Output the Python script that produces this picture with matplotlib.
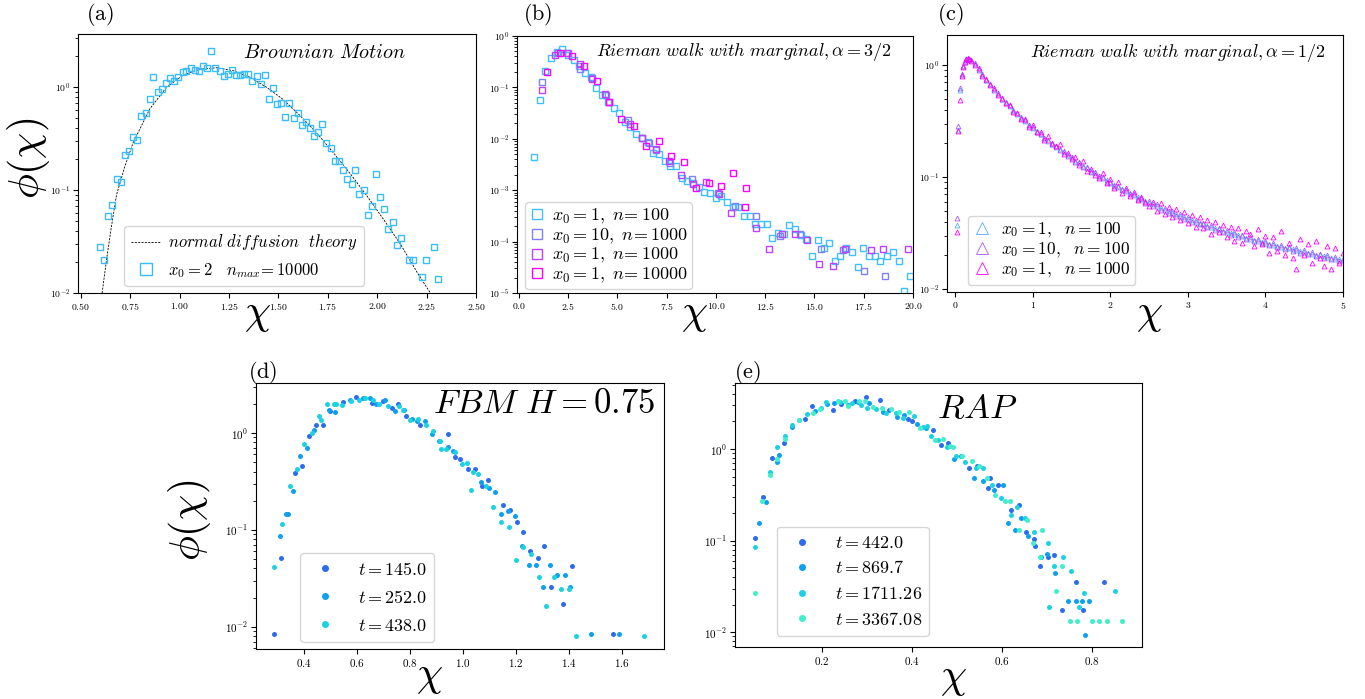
import numpy as np
import matplotlib
matplotlib.use("Agg")
import matplotlib.pyplot as plt
from matplotlib.ticker import FuncFormatter, LogLocator, NullFormatter, MultipleLocator

plt.rcParams['mathtext.fontset'] = 'cm'
plt.rcParams['font.family'] = ['DejaVu Serif']

# ---------------- Panel (a): Brownian motion ----------------
chi_a = [0.596, 0.618, 0.639, 0.660, 0.681, 0.703, 0.723, 0.745, 0.765, 0.785,
         0.806, 0.828, 0.848, 0.868, 0.890, 0.910, 0.931, 0.953, 0.973, 0.993,
         1.015, 1.035, 1.057, 1.078, 1.098, 1.120, 1.140, 1.160, 1.181, 1.203,
         1.223, 1.245, 1.265, 1.285, 1.307, 1.328, 1.348, 1.368, 1.390, 1.410,
         1.432, 1.453, 1.473, 1.495, 1.515, 1.535, 1.556, 1.578, 1.598, 1.618,
         1.640, 1.660, 1.681, 1.703, 1.723, 1.743, 1.765, 1.785, 1.807, 1.828,
         1.848, 1.870, 1.890, 1.910, 1.932, 1.953, 1.973, 1.995, 2.015, 2.035,
         2.057, 2.078, 2.098, 2.118, 2.160, 2.181, 2.225, 2.245, 2.285, 2.307]
phi_a = [0.028, 0.021, 0.056, 0.071, 0.128, 0.121, 0.222, 0.243, 0.326, 0.305,
         0.526, 0.558, 0.764, 1.25, 0.908, 0.956, 1.10, 1.24, 1.15, 1.25,
         1.40, 1.43, 1.53, 1.47, 1.45, 1.60, 1.54, 2.26, 1.55, 1.45,
         1.28, 1.36, 1.46, 1.33, 1.33, 1.34, 1.34, 1.14, 1.28, 1.07,
         1.31, 0.764, 0.99, 0.69, 0.70, 0.51, 0.70, 0.50, 0.56, 0.43,
         0.456, 0.405, 0.34, 0.367, 0.436, 0.289, 0.258, 0.191, 0.191, 0.158,
         0.128, 0.114, 0.158, 0.092, 0.10, 0.057, 0.070, 0.144, 0.085, 0.065,
         0.042, 0.049, 0.029, 0.034, 0.021, 0.021, 0.0144, 0.021, 0.028, 0.0138]
theory_chi = [0.608, 0.630, 0.655, 0.681, 0.723, 0.765, 0.850, 0.934, 1.019, 1.103,
              1.188, 1.272, 1.356, 1.441, 1.525, 1.610, 1.694, 1.779, 1.863, 1.948,
              2.032, 2.117, 2.201, 2.269]
theory_phi = [0.010, 0.0208, 0.044, 0.09, 0.17, 0.29, 0.62, 1.0, 1.32, 1.50,
              1.55, 1.45, 1.25, 1.0, 0.76, 0.53, 0.36, 0.23, 0.145, 0.088,
              0.052, 0.030, 0.016, 0.010]

# ---------------- Panel (b): Rieman walk alpha=3/2 ----------------
chi_b1 = [0.763, 1.05, 1.34, 1.63, 1.92, 2.20, 2.49, 2.78, 3.07, 3.36,
          3.64, 3.93, 4.22, 4.51, 4.80, 5.08, 5.37, 5.66, 5.95, 6.24,
          6.53, 6.81, 7.10, 7.39, 7.68, 7.97, 8.25, 8.54, 8.83, 9.12,
          9.41, 9.69, 9.98, 10.27, 10.56, 10.85, 11.14, 11.42, 11.71, 12.0,
          12.29, 12.58, 12.86, 13.15, 13.44, 13.73, 14.02, 14.31, 14.59, 14.88,
          15.17, 15.46, 15.75, 16.03, 16.32, 16.61, 16.9, 17.19, 17.47, 17.76,
          18.05, 18.34, 18.69, 18.98, 19.27, 19.56, 19.86]
phi_b1 = [0.0045, 0.057, 0.209, 0.38, 0.48, 0.56, 0.43, 0.337, 0.258, 0.19,
          0.157, 0.096, 0.070, 0.052, 0.039, 0.032, 0.021, 0.0166, 0.0125, 0.0102,
          0.0085, 0.0054, 0.005, 0.0037, 0.003, 0.0029, 0.0017, 0.00148, 0.00138, 0.00114,
          0.00091, 0.00087, 0.00069, 0.00076, 0.0006, 0.00047, 0.00047, 0.00031, 0.00032, 0.000224,
          0.00022, 0.00022, 0.000116, 0.000148, 0.000139, 0.00021, 0.000177, 0.000132, 0.00011, 5.3e-5,
          0.000108, 7.4e-5, 9.4e-5, 4.2e-5, 5.3e-5, 7.5e-5, 6.4e-5, 3.2e-5, 7.4e-5, 5.3e-5,
          5.2e-5, 4.2e-5, 5.3e-5, 6.3e-5, 4.2e-5, 1.07e-5, 2.1e-5]
chi_b2 = [1.19, 1.98, 2.49, 3.08, 3.73, 4.41, 5.54, 6.27, 6.61, 6.98,
          7.68, 8.80, 10.1, 10.97, 12.03, 13.25, 14.27, 15.34, 16.47, 17.53, 18.59]
phi_b2 = [0.128, 0.46, 0.46, 0.23, 0.149, 0.07, 0.023, 0.0104, 0.0083, 0.0061,
          0.0034, 0.00168, 0.00088, 0.0005, 0.00031, 0.00013, 0.00014, 7.2e-5, 6.8e-5, 2.7e-5, 2.1e-5]
chi_b3 = [1.19, 1.81, 2.44, 3.10, 3.73, 4.39, 4.58, 5.64, 6.27, 6.93,
          7.59, 8.22, 8.85, 9.49, 10.15, 10.78, 12.05, 12.71, 13.36, 14.0,
          14.64, 15.25, 15.92, 16.56, 17.85, 18.49, 19.75]
phi_b3 = [0.089, 0.43, 0.46, 0.29, 0.146, 0.074, 0.051, 0.0195, 0.0103, 0.0062,
          0.0037, 0.002, 0.00135, 0.00143, 0.00084, 0.00036, 0.00018, 7.1e-5, 0.000138, 0.000138,
          0.000106, 3.6e-5, 3.4e-5, 7.3e-5, 7.0e-5, 7.3e-5, 7.3e-5]
chi_b4 = [1.42, 2.07, 2.69, 3.32, 3.95, 4.58, 5.20, 5.83, 6.46, 7.10,
          7.73, 8.36, 9.0, 9.63, 10.25, 10.88, 11.51, 11.47]
phi_b4 = [0.203, 0.46, 0.41, 0.26, 0.134, 0.051, 0.024, 0.018, 0.0071, 0.0091,
          0.0046, 0.0035, 0.0011, 0.0014, 0.00119, 0.0022, 0.00109, 0.00047]

# ---------------- Panel (c): Rieman walk alpha=1/2 ----------------
chi_c = [0.02, 0.04, 0.06, 0.08, 0.10, 0.12, 0.14, 0.16, 0.18, 0.20,
         0.25, 0.30, 0.35, 0.40, 0.45, 0.50, 0.55, 0.60, 0.65, 0.70,
         0.75, 0.80, 0.85, 0.90, 0.95, 1.00, 1.05, 1.10, 1.15, 1.20,
         1.25, 1.30, 1.35, 1.40, 1.45, 1.50, 1.55, 1.60, 1.65, 1.70,
         1.75, 1.80, 1.85, 1.90, 1.95, 2.00, 2.05, 2.10, 2.15, 2.20,
         2.25, 2.30, 2.35, 2.40, 2.45, 2.50, 2.55, 2.60, 2.65, 2.70,
         2.75, 2.80, 2.85, 2.90, 2.95, 3.00, 3.05, 3.10, 3.15, 3.20,
         3.25, 3.30, 3.35, 3.40, 3.45, 3.50, 3.55, 3.60, 3.65, 3.70,
         3.75, 3.80, 3.85, 3.90, 3.95, 4.00, 4.05, 4.10, 4.15, 4.20,
         4.25, 4.30, 4.35, 4.40, 4.45, 4.50, 4.55, 4.60, 4.65, 4.70,
         4.75, 4.80, 4.85, 4.90, 4.95, 5.00]
phi_c1 = [0.037, 0.26, 0.60, 0.82, 0.97, 1.07, 1.12, 1.14, 1.13, 1.11,
          1.02, 0.92, 0.82, 0.74, 0.67, 0.61, 0.55, 0.50, 0.47, 0.43,
          0.395, 0.365, 0.34, 0.315, 0.292, 0.275, 0.257, 0.240, 0.225, 0.211,
          0.198, 0.186, 0.176, 0.166, 0.157, 0.148, 0.140, 0.133, 0.126, 0.120,
          0.114, 0.108, 0.103, 0.098, 0.093, 0.089, 0.085, 0.081, 0.078, 0.075,
          0.072, 0.069, 0.066, 0.063, 0.061, 0.059, 0.057, 0.055, 0.053, 0.051,
          0.0495, 0.048, 0.0465, 0.045, 0.0437, 0.0424, 0.0412, 0.0400, 0.0389, 0.0378,
          0.0368, 0.0358, 0.0349, 0.0340, 0.0332, 0.0324, 0.0316, 0.0309, 0.0302, 0.0295,
          0.0288, 0.0282, 0.0276, 0.0270, 0.0264, 0.0259, 0.0254, 0.0249, 0.0244, 0.0239,
          0.0234, 0.0230, 0.0226, 0.0222, 0.0218, 0.0214, 0.0210, 0.0206, 0.0203, 0.0200,
          0.0196, 0.0193, 0.0190, 0.0187, 0.0184, 0.0181]
phi_c2 = [0.043, 0.285, 0.62, 0.83, 0.98, 1.08, 1.13, 1.15, 1.13, 1.10,
          1.03, 0.91, 0.83, 0.73, 0.68, 0.60, 0.56, 0.50, 0.46, 0.435,
          0.39, 0.37, 0.335, 0.32, 0.288, 0.28, 0.253, 0.244, 0.222, 0.214,
          0.195, 0.189, 0.173, 0.169, 0.154, 0.151, 0.137, 0.136, 0.123, 0.123,
          0.111, 0.110, 0.101, 0.100, 0.091, 0.091, 0.083, 0.083, 0.076, 0.077,
          0.070, 0.071, 0.064, 0.065, 0.059, 0.061, 0.055, 0.057, 0.051, 0.053,
          0.048, 0.0495, 0.045, 0.0465, 0.0425, 0.0438, 0.040, 0.0413, 0.0377, 0.039,
          0.0357, 0.037, 0.0338, 0.0352, 0.0322, 0.0335, 0.0306, 0.032, 0.0293, 0.0305,
          0.0279, 0.0292, 0.0268, 0.0279, 0.0256, 0.0268, 0.0246, 0.0258, 0.0237, 0.0247,
          0.0227, 0.0238, 0.0219, 0.0230, 0.0211, 0.0221, 0.0204, 0.0213, 0.0197, 0.0207,
          0.0190, 0.0200, 0.0184, 0.0193, 0.0178, 0.0187]
phi_c3 = [0.032, 0.255, 0.49, 0.80, 0.96, 1.06, 1.12, 1.13, 1.12, 1.09,
          1.00, 0.93, 0.80, 0.75, 0.66, 0.62, 0.54, 0.51, 0.46, 0.44,
          0.38, 0.37, 0.33, 0.33, 0.28, 0.29, 0.25, 0.25, 0.215, 0.23,
          0.20, 0.19, 0.198, 0.16, 0.163, 0.145, 0.15, 0.128, 0.14, 0.112,
          0.118, 0.104, 0.098, 0.108, 0.088, 0.096, 0.079, 0.090, 0.072, 0.080,
          0.068, 0.074, 0.062, 0.066, 0.060, 0.055, 0.060, 0.050, 0.058, 0.047,
          0.054, 0.044, 0.052, 0.041, 0.049, 0.039, 0.046, 0.036, 0.044, 0.035,
          0.041, 0.031, 0.040, 0.032, 0.037, 0.029, 0.036, 0.027, 0.035, 0.026,
          0.033, 0.031, 0.024, 0.034, 0.025, 0.030, 0.021, 0.029, 0.022, 0.033,
          0.020, 0.026, 0.019, 0.015, 0.028, 0.020, 0.025, 0.017, 0.027, 0.019,
          0.016, 0.024, 0.015, 0.023, 0.017, 0.021]

# ---------------- Panel (d): FBM H=0.75 ----------------
chi_d1 = [0.289, 0.316, 0.367, 0.394, 0.420, 0.445, 0.472, 0.499, 0.550, 0.596,
          0.657, 0.701, 0.732, 0.755, 0.785, 0.838, 0.943, 0.971, 0.989, 1.02,
          1.046, 1.072, 1.094, 1.151, 1.177, 1.204, 1.229, 1.255, 1.283, 1.308,
          1.335, 1.38, 1.412, 1.569]
phi_d1 = [0.0085, 0.051, 0.387, 0.453, 0.93, 1.21, 1.2, 1.67, 2.07, 2.35,
          2.04, 2.14, 1.82, 1.98, 1.51, 1.21, 0.98, 0.57, 0.54, 0.43,
          0.43, 0.284, 0.33, 0.182, 0.162, 0.12, 0.094, 0.060, 0.051, 0.068,
          0.0256, 0.0173, 0.0426, 0.0085]
chi_d2 = [0.309, 0.334, 0.342, 0.361, 0.387, 0.414, 0.438, 0.494, 0.520, 0.573,
          0.624, 0.649, 0.673, 0.707, 0.746, 0.779, 0.808, 0.828, 0.859, 0.886,
          0.91, 0.944, 0.964, 1.068, 1.10, 1.122, 1.145, 1.172, 1.197, 1.224,
          1.25, 1.277, 1.304, 1.329, 1.355, 1.385, 1.405, 1.486, 1.59]
phi_d2 = [0.086, 0.146, 0.146, 0.25, 0.58, 0.695, 1.07, 1.71, 1.65, 2.17,
          2.30, 2.30, 2.0, 2.21, 1.69, 1.71, 1.41, 1.32, 1.32, 0.97,
          0.83, 0.72, 0.65, 0.31, 0.269, 0.247, 0.147, 0.156, 0.138, 0.069,
          0.043, 0.043, 0.0256, 0.043, 0.0346, 0.0342, 0.0256, 0.0085, 0.0085]
chi_d3 = [0.289, 0.319, 0.347, 0.376, 0.403, 0.433, 0.459, 0.467, 0.489, 0.516,
          0.523, 0.545, 0.578, 0.607, 0.633, 0.663, 0.683, 0.717, 0.758, 0.773,
          0.803, 0.833, 0.861, 0.889, 0.914, 0.918, 0.937, 0.973, 0.999, 1.015,
          1.03, 1.04, 1.059, 1.088, 1.115, 1.144, 1.175, 1.201, 1.229, 1.258,
          1.287, 1.314, 1.343, 1.371, 1.40, 1.428, 1.686]
phi_d3 = [0.041, 0.114, 0.286, 0.429, 0.776, 1.0, 1.51, 1.37, 1.98, 2.0,
          2.0, 1.93, 2.14, 2.17, 2.30, 2.21, 2.0, 1.88, 1.88, 1.71,
          1.37, 1.38, 1.2, 1.06, 0.83, 0.68, 0.68, 0.64, 0.475, 0.49,
          0.26, 0.40, 0.38, 0.284, 0.171, 0.122, 0.107, 0.049, 0.066, 0.057,
          0.0325, 0.0163, 0.0325, 0.0244, 0.0244, 0.0081, 0.0081]

# ---------------- Panel (e): RAP ----------------
chi_e1 = [0.0516, 0.068, 0.090, 0.115, 0.163, 0.178, 0.2245, 0.242, 0.273, 0.297,
          0.328, 0.348, 0.390, 0.400, 0.447, 0.465, 0.479, 0.527, 0.5435, 0.573,
          0.5687, 0.592, 0.621, 0.6377, 0.653, 0.670, 0.673, 0.684, 0.702, 0.716,
          0.733, 0.7645, 0.781, 0.8276]
phi_e1 = [0.106, 0.30, 0.80, 1.17, 2.14, 2.95, 2.65, 3.08, 3.35, 3.7,
          3.46, 2.69, 2.14, 2.02, 1.61, 1.10, 1.16, 0.625, 0.66, 0.48,
          0.378, 0.41, 0.214, 0.248, 0.124, 0.105, 0.0885, 0.0535, 0.0666, 0.070,
          0.0175, 0.0352, 0.0175, 0.0352]
chi_e2 = [0.059, 0.0746, 0.100, 0.104, 0.1325, 0.149, 0.184, 0.211, 0.226, 0.257,
          0.281, 0.305, 0.3365, 0.367, 0.383, 0.411, 0.431, 0.494, 0.509, 0.5375,
          0.558, 0.582, 0.603, 0.6125, 0.629, 0.642, 0.658, 0.687, 0.700, 0.7185,
          0.7475, 0.7645, 0.778, 0.7846, 0.7927]
phi_e2 = [0.155, 0.264, 0.73, 0.87, 1.74, 2.06, 2.60, 3.13, 3.18, 3.0,
          3.26, 3.16, 2.54, 2.25, 2.37, 1.86, 1.71, 0.77, 0.84, 0.486,
          0.444, 0.353, 0.41, 0.154, 0.132, 0.178, 0.111, 0.066, 0.0706, 0.0445,
          0.0222, 0.0222, 0.0222, 0.0094, 0.0222]
chi_e3 = [0.0516, 0.0835, 0.1006, 0.118, 0.1325, 0.166, 0.198, 0.210, 0.240, 0.266,
          0.2875, 0.301, 0.319, 0.342, 0.364, 0.379, 0.404, 0.425, 0.434, 0.443,
          0.458, 0.477, 0.497, 0.517, 0.542, 0.557, 0.577, 0.598, 0.621, 0.634,
          0.651, 0.672, 0.7015, 0.704, 0.716, 0.736, 0.7527, 0.77, 0.783, 0.8506]
phi_e3 = [0.085, 0.56, 1.05, 1.40, 1.85, 2.39, 2.83, 3.26, 3.26, 3.21,
          3.0, 2.83, 2.76, 2.49, 2.47, 2.20, 2.27, 1.74, 1.77, 1.38,
          1.26, 1.05, 0.83, 0.715, 0.625, 0.62, 0.40, 0.289, 0.19, 0.232,
          0.175, 0.123, 0.094, 0.0188, 0.0535, 0.066, 0.047, 0.0188, 0.0267, 0.0285]
chi_e4 = [0.051, 0.067, 0.0835, 0.1006, 0.118, 0.149, 0.181, 0.195, 0.235, 0.251,
          0.258, 0.283, 0.296, 0.313, 0.333, 0.354, 0.371, 0.394, 0.417, 0.45,
          0.468, 0.484, 0.492, 0.511, 0.533, 0.549, 0.566, 0.584, 0.6065, 0.618,
          0.638, 0.656, 0.668, 0.684, 0.688, 0.72, 0.734, 0.751, 0.7675, 0.80,
          0.8165, 0.8335, 0.867]
phi_e4 = [0.0269, 0.268, 0.515, 0.78, 1.30, 2.09, 2.47, 2.76, 3.35, 3.35,
          2.93, 3.35, 3.32, 2.88, 2.83, 2.76, 2.54, 2.54, 1.71, 1.26,
          1.28, 1.07, 1.04, 0.85, 0.74, 0.65, 0.486, 0.312, 0.268, 0.272,
          0.132, 0.170, 0.094, 0.0666, 0.132, 0.0285, 0.0535, 0.0134, 0.0134, 0.0134,
          0.0134, 0.0134, 0.0134]

labels_b = [r'$x_0=1,\ n\!= 100$', r'$x_0=10,\ n\!= 1000$',
            r'$x_0=1,\ n\!= 1000$', r'$x_0=1,\ n\!= 10000$']
labels_c = [r'$x_0=1,\ \ n=100$', r'$x_0=10,\ \ n=100$', r'$x_0=1,\ \ n=1000$']
labels_d = [r'$t=145.0$', r'$t=252.0$', r'$t=438.0$']
labels_e = [r'$t=442.0$', r'$t=869.7$', r'$t=1711.26$', r'$t=3367.08$']

col_a = '#3bbcfc'
cols_b = ['#40bfff', '#8080ff', '#bf40ff', '#ff00ff']
cols_c = ['#55aaff', '#aa55ff', '#ff00ff']
cols_de = ['#2d6cf0', '#0ea0f0', '#1cd2e2', '#42efcc']

W, H = 1365, 699
fig = plt.figure(figsize=(W / 100, H / 100), dpi=100)


def add_ax(l, r, t, b):
    return fig.add_axes([l / W, (H - b) / H, (r - l) / W, (b - t) / H])


def logfmt(v, p):
    if v <= 0:
        return ''
    e = int(round(np.log10(v)))
    return r'$10^{%d}$' % e


def style(ax, xfmt, xstep, lsize, ylo, yhi):
    ax.set_yscale('log')
    ax.yaxis.set_major_locator(LogLocator(base=10, numticks=12))
    ax.yaxis.set_major_formatter(FuncFormatter(logfmt))
    ax.yaxis.set_minor_locator(LogLocator(base=10, subs=np.arange(2, 10), numticks=12))
    ax.yaxis.set_minor_formatter(NullFormatter())
    ax.xaxis.set_major_locator(MultipleLocator(xstep))
    ax.xaxis.set_major_formatter(FuncFormatter(lambda v, p: (r'$' + xfmt + r'$') % v))
    ax.tick_params(which='major', labelsize=lsize, length=3.5, width=0.8, pad=2)
    ax.tick_params(which='minor', length=2, width=0.6)
    ax.set_ylim(ylo, yhi)


def panel_label(s, x, y):
    fig.text(x / W, 1 - y / H, r'$\mathrm{(%s)}$' % s, fontsize=16, ha='center', va='center')


def xlab(ax, fx, fy, size=30):
    ax.set_xlabel(r'$\chi$', fontsize=size)
    ax.xaxis.label.set_va('center')
    ax.xaxis.set_label_coords(fx, fy)


def ylab(ax, fx, fy):
    ax.set_ylabel(r'$\phi(\chi)$', fontsize=30)
    ax.yaxis.label.set_va('center')
    ax.yaxis.set_label_coords(fx, fy)


# ---- (a)
axa = add_ax(78, 476, 34, 293)
axa.plot(theory_chi, theory_phi, ls='--', color='k', lw=0.6, dashes=(2.5, 1.5),
         label=r'$normal\ diffusion\ \ theory$')
axa.plot(chi_a, phi_a, ls='none', marker='s', mfc='none', mec=col_a, ms=4, mew=1.0,
         label=r'$x_0=2\quad n_{max}\!=10000$')
style(axa, '%.2f', 0.25, 7, 0.01, 3.3)
axa.set_xlim(0.486, 2.5)
axa.text(0.62, 0.93, r'$Brownian\ Motion$', transform=axa.transAxes, fontsize=14.5,
         ha='center', va='center')
axa.legend(loc='lower left', bbox_to_anchor=(0.1, 0.0), fontsize=12, markerscale=2.2,
           handlelength=1.8, handletextpad=0.4, borderaxespad=0.4)
ylab(axa, -0.125, 0.52)
xlab(axa, 0.45, -0.077)
panel_label('a', 100, 14)

# ---- (b)
axb = add_ax(517, 913, 36, 293)
for xs, ys, c, lab in zip([chi_b1, chi_b2, chi_b3, chi_b4], [phi_b1, phi_b2, phi_b3, phi_b4],
                          cols_b, labels_b):
    axb.plot(xs, ys, ls='none', marker='s', mfc='none', mec=c, ms=4, mew=1.0, label=lab)
style(axb, '%.1f', 2.5, 7, 1e-5, 1.0)
axb.set_xlim(-0.1, 20.0)
axb.text(0.573, 0.938, r'$Rieman\ walk\ with\ marginal, \alpha=3/2$', transform=axb.transAxes,
         fontsize=13, ha='center', va='center')
axb.legend(loc='lower left', bbox_to_anchor=(0.012, 0.0), fontsize=13, markerscale=1.9,
           handlelength=0.8, handletextpad=0.4, borderaxespad=0.2, labelspacing=0.0,
           borderpad=0.25)
xlab(axb, 0.449, -0.078)
panel_label('b', 538, 14)

# ---- (c)
axc = add_ax(947, 1343, 35, 292)
for ys, c, lab in zip([phi_c1, phi_c2, phi_c3], cols_c, labels_c):
    axc.plot(chi_c, ys, ls='none', marker='^', mfc='none', mec=c, ms=3.5, mew=0.6, label=lab)
style(axc, '%d', 1, 7, 0.0094, 1.85)
axc.set_xlim(-0.107, 5.0)
axc.text(0.583, 0.93, r'$Rieman\ walk\ with\ marginal, \alpha=1/2$', transform=axc.transAxes,
         fontsize=13, ha='center', va='center')
axc.legend(loc='lower left', bbox_to_anchor=(0.035, 0.0), fontsize=12.5, markerscale=2.6,
           handlelength=1.0, handletextpad=0.6, borderaxespad=0.4, labelspacing=0.05,
           borderpad=0.3)
xlab(axc, 0.51, -0.082)
panel_label('c', 950, 14)

# ---- (d)
axd = add_ax(256, 664, 383, 649)
for xs, ys, c, lab in zip([chi_d1, chi_d2, chi_d3], [phi_d1, phi_d2, phi_d3],
                          cols_de[:3], labels_d):
    axd.plot(xs, ys, ls='none', marker='o', mfc=c, mec='none', ms=3.6, label=lab)
style(axd, '%.1f', 0.2, 8, 0.0059, 3.28)
axd.set_xlim(0.22, 1.76)
axd.text(0.706, 0.925, r'$FBM\ H=0.75$', transform=axd.transAxes, fontsize=25,
         ha='center', va='center')
axd.legend(loc='lower left', bbox_to_anchor=(0.09, 0.0), fontsize=13, markerscale=1.4,
           borderaxespad=0.4, labelspacing=0.55)
ylab(axd, -0.162, 0.485)
xlab(axd, 0.426, -0.098)
panel_label('d', 263, 372)

# ---- (e)
axe = add_ax(735, 1142, 383, 647)
for xs, ys, c, lab in zip([chi_e1, chi_e2, chi_e3, chi_e4], [phi_e1, phi_e2, phi_e3, phi_e4],
                          cols_de, labels_e):
    axe.plot(xs, ys, ls='none', marker='o', mfc=c, mec='none', ms=3.6, label=lab)
style(axe, '%.1f', 0.2, 8, 0.0069, 5.26)
axe.set_xlim(0.0067, 0.911)
axe.text(0.594, 0.905, r'$RAP$', transform=axe.transAxes, fontsize=25,
         ha='center', va='center')
axe.legend(loc='lower left', bbox_to_anchor=(0.085, 0.015), fontsize=13, markerscale=1.4,
           borderaxespad=0.4, labelspacing=0.42)
xlab(axe, 0.536, -0.114)
panel_label('e', 747, 372)

fig.savefig('out.png', dpi=100)
